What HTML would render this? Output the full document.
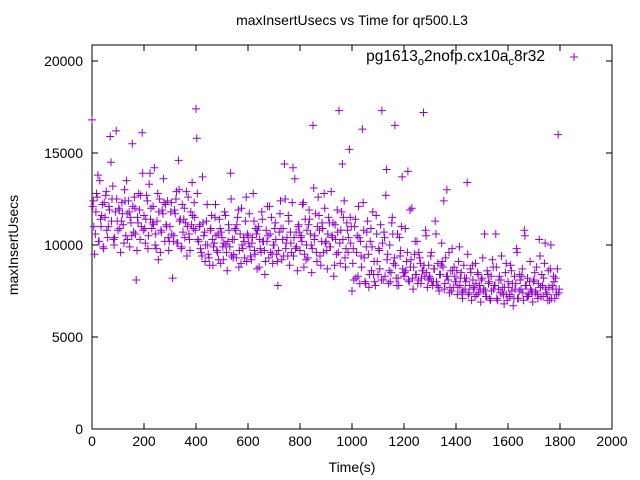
<!DOCTYPE html>
<html><head><meta charset="utf-8"><style>
body{margin:0;background:#fff}
svg{display:block;font-family:"Liberation Sans",sans-serif}
</style></head><body>
<svg id="chart" width="640" height="480" xmlns="http://www.w3.org/2000/svg">
<rect width="640" height="480" fill="#fff"/>
<text x="352" y="25" font-size="14" text-anchor="middle">maxInsertUsecs vs Time for qr500.L3</text>
<text x="352" y="472" font-size="14" text-anchor="middle">Time(s)</text>
<text transform="translate(18,245) rotate(-90)" font-size="14" text-anchor="middle">maxInsertUsecs</text>
<g id="axes"></g>
<g id="points"></g>
<g>
<text x="545" y="61" font-size="15.5" text-anchor="end">pg1613<tspan font-size="11" dy="4">o</tspan><tspan dy="-4">2nofp.cx10a</tspan><tspan font-size="11" dy="4">c</tspan><tspan dy="-4">8r32</tspan></text>
<path d="M570 57h8M574 53v8" stroke="#9400d3" stroke-width="1"/>
</g>
</svg>
<script>
const xTicks=[0,200,400,600,800,1000,1200,1400,1600,1800,2000];
const yTicks=[0,5000,10000,15000,20000];
const yA=[16.8,12.4,9.5,11.8,12.6,10.2,13.5,11.0,12.2,9.8,
11.5,12.9,10.4,12.1,15.9,11.3,13.2,10.0,11.8,12.5,
10.8,11.9,9.6,12.3,11.1,13.0,10.5,11.7,12.4,9.9,
11.2,15.5,10.7,12.0,8.1,11.5,12.8,10.3,11.0,13.9,
11.6,10.1,12.7,9.8,13.3,11.4,10.9,12.1,14.2,10.6,
11.3,9.2,12.5,10.8,11.9,13.6,10.2,11.1,12.4,9.7,
11.0,12.3,8.2,10.5,11.7,12.9,10.1,13.0,11.4,9.9,
10.7,12.0,11.2,9.4,12.6,10.3,11.8,13.4,10.9,11.5,
17.4,12.8,10.2,11.1,9.6,13.7,10.5,9.1,11.3,10.0,
9.3,10.8,11.6,8.9,10.1,12.2,9.7,10.6,11.4,9.0,
10.4,9.2,11.8,10.0,8.6,11.1,9.9,12.5,10.3,9.5,
10.9,9.3,11.5,8.8,10.6,12.0,9.8,10.2,11.3,9.1,
10.5,11.7,9.4,10.1,12.8,9.7,10.9,8.7,11.0,10.3,
9.6,11.4,10.2,8.4,10.8,12.1,9.3,10.6,11.5,9.0,
10.0,11.2,9.5,7.8,10.7,12.4,9.2,10.9,14.4,9.8,
10.4,11.6,8.9,10.1,12.3,9.4,13.6,10.7,8.6,11.1,
9.7,10.5,12.2,8.8,11.4,10.0,9.3,11.9,10.6,8.5,
16.5,10.3,11.7,9.1,12.6,10.8,8.9,11.2,9.6,12.0,
10.2,8.7,11.5,9.9,12.9,10.4,8.3,11.1,9.5,10.7,
17.3,9.0,11.8,10.3,12.4,8.8,11.2,9.6,15.2,10.1,
7.5,9.8,11.0,8.2,10.5,12.1,7.9,9.4,16.3,10.8,
8.0,9.9,11.3,7.7,10.2,8.6,11.8,9.1,7.8,10.6,
8.4,9.7,11.1,17.3,8.1,10.4,12.7,9.2,7.9,10.0,
8.5,11.5,9.0,16.5,8.2,10.6,7.8,9.4,11.0,8.7,
8.3,10.9,9.1,14.0,8.0,8.8,12.0,7.6,9.5,8.4,
10.2,8.1,9.3,7.9,8.6,17.2,8.3,10.5,7.7,8.9,
8.2,9.6,7.8,8.7,11.3,8.0,9.0,7.5,8.4,10.1,
8.8,7.6,9.3,13.0,8.1,7.4,8.6,9.8,7.7,8.3,
8.0,7.3,9.1,7.8,8.5,7.1,8.9,7.6,8.2,9.5,
7.4,8.7,7.0,8.1,7.7,9.0,7.3,8.4,7.8,6.9,
8.2,7.5,10.6,7.2,8.6,7.9,7.1,8.3,9.2,7.6,
7.8,8.8,7.0,8.1,7.4,9.4,7.7,6.8,8.5,7.3,
8.0,7.2,8.9,7.5,6.7,8.3,7.9,9.6,7.1,8.4,
7.6,8.7,7.0,10.5,7.8,8.2,7.3,9.1,7.5,6.9,
8.1,7.4,8.8,7.1,10.3,7.7,8.4,7.2,9.0,7.6,
7.3,8.6,7.0,10.0,7.8,8.3,7.1,7.6,8.7,7.4];
const yB=[12.1,10.6,13.8,11.4,9.9,12.7,11.0,14.5,10.3,16.2,
12.0,11.3,10.1,13.5,11.8,10.5,12.6,9.7,11.9,16.1,
10.9,12.4,13.9,11.2,10.0,12.8,9.6,11.7,12.2,10.4,
11.8,10.2,12.5,14.6,9.8,11.4,12.9,10.6,11.1,12.3,
15.8,11.0,9.4,10.7,12.2,8.9,10.3,11.5,9.6,10.9,
9.9,11.6,10.2,13.9,9.3,10.8,11.9,9.0,10.4,12.6,
10.1,9.2,11.3,10.6,8.8,11.8,9.7,10.2,12.1,9.5,
10.9,9.1,11.7,10.3,12.5,9.4,10.7,14.2,9.8,11.0,
10.4,12.3,9.2,11.1,10.0,13.1,9.6,11.6,10.2,12.8,
9.7,11.2,10.5,8.9,11.9,10.1,14.4,9.3,10.8,11.5,
9.0,11.4,8.3,10.2,12.3,7.9,9.5,10.9,8.4,11.6,
9.8,8.1,10.7,14.1,8.6,11.2,9.3,7.8,10.4,13.7,
8.5,9.6,11.9,8.2,10.2,7.9,9.0,8.6,10.8,8.1,
9.4,8.0,10.6,7.7,8.9,12.4,8.3,9.6,7.5,8.8,
8.6,9.9,7.4,8.2,13.4,7.8,8.9,7.2,8.5,7.6,
9.3,7.5,8.4,7.0,8.8,10.6,7.6,8.1,7.3,9.0,
7.7,8.6,7.1,9.8,7.5,8.3,10.8,7.2,8.0,7.4,
8.5,7.3,9.4,7.8,10.1,7.0,8.7,7.6,8.2,16.0];
const yC=[11.0,12.8,10.2,11.6,12.3,10.8,11.9,12.5,10.4,11.3,
10.9,11.7,12.4,10.3,11.5,12.1,10.6,11.2,12.7,10.8,
11.4,10.5,12.0,11.1,9.8,11.8,10.7,12.3,11.0,10.2,
10.6,11.9,10.1,11.3,12.2,10.4,11.0,9.7,11.6,10.8,
10.3,9.8,11.2,10.0,9.5,10.9,9.9,10.5,9.2,10.7,
10.1,9.6,10.8,9.4,10.3,11.1,9.7,10.0,9.3,10.6,
9.9,10.4,9.5,10.8,9.8,10.2,9.1,10.5,9.6,10.0,
10.3,9.7,10.9,9.4,10.1,11.3,9.6,10.4,9.9,10.7,
10.2,9.5,10.8,11.4,9.8,10.5,11.0,9.4,10.9,10.1,
10.6,9.9,11.2,10.3,9.6,10.8,11.5,9.8,10.4,11.0,
8.1,9.6,10.4,8.8,9.3,10.7,8.4,9.9,8.0,9.1,
8.7,10.1,8.3,9.5,8.0,10.6,8.9,8.2,9.7,8.5,
8.6,8.1,9.2,8.8,8.4,9.6,8.2,8.9,8.5,8.3,
8.0,8.7,7.8,8.4,9.1,7.9,8.3,7.7,8.6,8.0,
7.7,8.2,7.5,8.0,7.3,8.5,7.6,7.9,7.4,8.1,
7.6,7.2,8.0,7.5,7.8,7.1,8.3,7.4,7.7,7.0,
7.3,7.9,7.6,7.1,8.1,7.4,7.8,7.2,7.6,8.0,
7.5,7.9,7.2,8.2,7.4,7.7,7.1,8.0,7.3,7.6];
const x0=92,x1=612,yb=429,yt=61;
const sx=v=>x0+(v/2000)*(x1-x0);
const sy=v=>yb-(v/20000)*(yb-yt);
const NS='http://www.w3.org/2000/svg';
const ax=document.getElementById('axes');
function mk(tag,attrs,parent){const e=document.createElementNS(NS,tag);for(const k in attrs)e.setAttribute(k,attrs[k]);parent.appendChild(e);return e;}
const fr=mk('rect',{x:x0,y:yt-16,width:x1-x0,height:yb-yt+16,fill:'none',stroke:'#000','stroke-width':1},ax);


xTicks.forEach(t=>{const x=sx(t);
mk('path',{d:`M${x} ${yb}v-6M${x} ${yt-16}v6`,stroke:'#000'},ax);
const tx=mk('text',{x:x,y:yb+17,'font-size':14,'text-anchor':'middle'},ax);tx.textContent=t;

});
yTicks.forEach(t=>{const y=sy(t);
mk('path',{d:`M${x0} ${y}h6M${x1} ${y}h-6`,stroke:'#000'},ax);
const tx=mk('text',{x:x0-9,y:y+5,'font-size':14,'text-anchor':'end'},ax);tx.textContent=t;

});
const pg=document.getElementById('points');
let d='';
yA.forEach((v,i)=>{const x=sx(i*5),y=sy(v*1000);d+=`M${x-4} ${y}h8M${x} ${y-4}v8`;});
yB.forEach((v,i)=>{const x=sx(i*10+3),y=sy(v*1000);d+=`M${x-4} ${y}h8M${x} ${y-4}v8`;});
yC.forEach((v,i)=>{const x=sx(i*10+7),y=sy(v*1000);d+=`M${x-4} ${y}h8M${x} ${y-4}v8`;});
const p=mk('path',{d:d,stroke:'#9400d3','stroke-width':1,fill:'none'},pg);


</script>
</body></html>
